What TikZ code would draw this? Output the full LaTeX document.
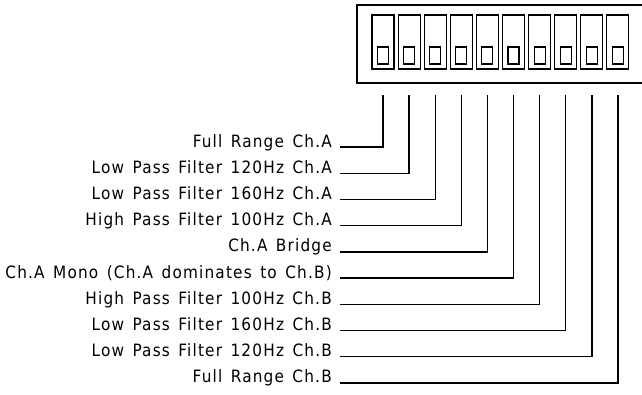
\documentclass[tikz,border=0pt]{standalone}
\usepackage{fontspec}
\setmainfont[LetterSpace=7,WordSpace=1.4]{DejaVu Sans Condensed}
\begin{document}
\begin{tikzpicture}[x=1pt,y=-1pt,
  frame/.style={draw=black,line width=1.8pt},
  switchbox/.style={draw=black,line width=1.1pt},
  knob/.style={draw=black,line width=1.1pt},
  lead/.style={draw=black,line width=1.4pt},
  lbl/.style={anchor=base east,inner sep=0pt,font=\fontsize{17}{19}\selectfont}]
\useasboundingbox (0,0) rectangle (642,394);
\draw[frame] (357,5) rectangle (660,83);
\foreach \i in {0,...,9}{
  \pgfmathsetmacro{\cx}{383+26.1*\i}
  \draw[switchbox] (\cx-11,15) rectangle (\cx+11,69);
  \draw[knob] (\cx-5.5,47) rectangle (\cx+5.5,64);
  \coordinate (p\i) at (\cx,95);
}
\foreach \t [count=\n from 0] in {Full Range Ch.A,Low Pass Filter 120Hz Ch.A,Low Pass Filter 160Hz Ch.A,High Pass Filter 100Hz Ch.A,Ch.A Bridge,Ch.A Mono (Ch.A dominates to Ch.B),High Pass Filter 100Hz Ch.B,Low Pass Filter 160Hz Ch.B,Low Pass Filter 120Hz Ch.B,Full Range Ch.B}{
  \pgfmathsetmacro{\ry}{147+26.2*\n}
  \node[lbl] (t\n) at (332,\ry) {\t};
  \coordinate (s\n) at (340,\ry);
  \draw[lead] (s\n) -| (p\n);
}
\end{tikzpicture}
\end{document}
